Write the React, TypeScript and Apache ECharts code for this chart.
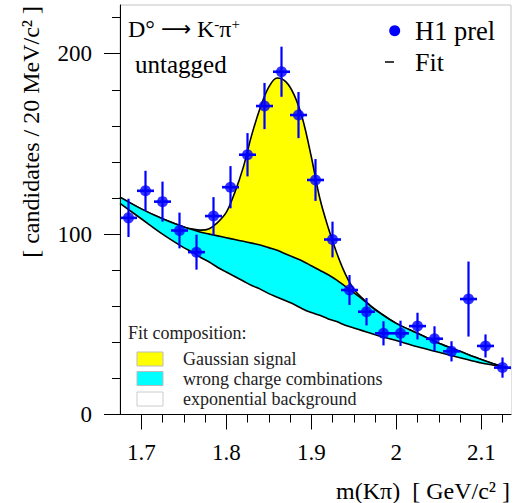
import React, { useEffect, useRef } from "react";
import * as echarts from "echarts";

// Data points (bin centres, 20 MeV bins)
const massBins = [1.685, 1.705, 1.725, 1.745, 1.765, 1.785, 1.805, 1.825, 1.845, 1.865, 1.885, 1.905, 1.925, 1.945, 1.965, 1.985, 2.005, 2.025, 2.045, 2.065, 2.085, 2.105, 2.125];
const counts = [109, 124, 118, 102, 90, 110, 126, 144, 171, 190, 166, 130, 97, 69, 57, 45, 45, 49, 42, 35, 64, 38, 26];
const countErrors = [10.6, 11.1, 11.1, 9.9, 9.7, 10.5, 11.7, 12, 12.8, 13.9, 12.8, 11.6, 9.9, 8.3, 7.6, 6.7, 7, 7.4, 6.9, 5.6, 20.8, 6.4, 5.6];
const halfBinWidth = 0.01;

// Fit curves
const fitMass = [1.675, 1.7, 1.725, 1.75, 1.76, 1.77, 1.78, 1.79, 1.8, 1.81, 1.82, 1.83, 1.84, 1.85, 1.86, 1.87, 1.88, 1.89, 1.9, 1.91, 1.92, 1.93, 1.94, 1.95, 1.96, 1.97, 1.98, 2.0, 2.025, 2.05, 2.075, 2.1, 2.125, 2.135];
const fitTotal = [120.5, 114, 108.5, 104, 102.8, 102.2, 103, 106.5, 112, 123, 137, 155, 170, 181.5, 186.5, 184.5, 177, 163.5, 143, 120, 103.5, 89.5, 78, 69.5, 64.5, 60.2, 56.7, 50.5, 45, 39.5, 35, 30.5, 26.5, 25.5];
const fitBackground = [120.5, 114, 108.5, 104, 102.5, 101, 100, 99, 98, 97, 96, 95, 94, 92.5, 91, 89, 87, 85, 82.5, 80, 77.5, 74.5, 71, 67.5, 64, 60, 56.5, 50.5, 45, 39.5, 35, 30.5, 26.5, 25.5];
const fitExponential = [117, 108.5, 100, 92.5, 90, 87, 84.5, 81.5, 79, 76.5, 74, 71.5, 69.5, 67, 65, 63, 61, 58.5, 56.5, 55, 53, 51.5, 49.5, 48, 46.5, 45, 43.5, 41, 37.5, 34.5, 31.5, 28.5, 26.5, 25.5];

// Axis ticks
const xMajorTicks = [1.7, 1.8, 1.9, 2.0, 2.1];
const xMinorTicks = [1.725, 1.75, 1.775, 1.825, 1.85, 1.875, 1.925, 1.95, 1.975, 2.025, 2.05, 2.075, 2.125];
const yMajorTicks = [0, 100, 200];
const yMinorTicks = [20, 40, 60, 80, 120, 140, 160, 180, 220];

const FONT = "Liberation Serif";

export default function App() {
  const ref = useRef<HTMLDivElement>(null);

  useEffect(() => {
    document.body.style.margin = "0";
    const chart = echarts.init(ref.current as HTMLDivElement, null, { renderer: "svg" });
    const pairs = (ys: number[]) => fitMass.map((m, i) => [m, ys[i]]);
    const xCommon = { type: "value", min: 1.675, max: 2.135, splitLine: { show: false }, z: 10 };
    const yCommon = { type: "value", min: 0, max: 227, splitLine: { show: false }, z: 10 };
    const txt = (text: string, x: number, y: number, size: number, extra: any = {}) => ({
      type: "text",
      x,
      y,
      z: 100,
      style: {
        text,
        fontFamily: FONT,
        fontSize: size,
        fill: "#000",
        align: "left",
        textAlign: "left",
        verticalAlign: "middle",
        textVerticalAlign: "middle",
        ...extra,
      },
    });

    const option: any = {
      animation: false,
      grid: { left: 120, right: 13, top: 5, bottom: 88.5, show: true, borderColor: "#c4c4c4", borderWidth: 1 },
      xAxis: [
        {
          ...xCommon,
          axisLine: { lineStyle: { color: "#000", width: 1 } },
          axisTick: { customValues: xMajorTicks, length: 15, lineStyle: { color: "#000" } },
          axisLabel: { customValues: xMajorTicks, fontFamily: FONT, fontSize: 23, color: "#000", margin: 26 },
        },
        {
          ...xCommon,
          position: "bottom",
          axisLine: { show: false },
          axisTick: { customValues: xMinorTicks, length: 8, lineStyle: { color: "#000" } },
          axisLabel: { show: false },
        },
      ],
      yAxis: [
        {
          ...yCommon,
          position: "left",
          axisLine: { show: true, lineStyle: { color: "#000", width: 1 } },
          axisTick: { show: true, customValues: yMajorTicks, length: 16, lineStyle: { color: "#000" } },
          axisLabel: { customValues: yMajorTicks, fontFamily: FONT, fontSize: 23, color: "#000", margin: 28 },
        },
        {
          ...yCommon,
          position: "left",
          axisLine: { show: false },
          axisTick: { show: true, customValues: yMinorTicks, length: 8, lineStyle: { color: "#000" } },
          axisLabel: { show: false },
        },
      ],
      series: [
        {
          name: "Fit total",
          type: "line",
          data: pairs(fitTotal),
          smooth: 0.35,
          showSymbol: false,
          lineStyle: { color: "#000", width: 1.6 },
          areaStyle: { color: "#ffff00", opacity: 1 },
          z: 2,
        },
        {
          name: "wrong charge combinations",
          type: "line",
          data: pairs(fitBackground),
          smooth: 0.35,
          showSymbol: false,
          lineStyle: { color: "#000", width: 1.6 },
          areaStyle: { color: "#00ffff", opacity: 1 },
          z: 3,
        },
        {
          name: "exponential background",
          type: "line",
          data: pairs(fitExponential),
          smooth: 0.35,
          showSymbol: false,
          lineStyle: { color: "#000", width: 1.6 },
          areaStyle: { color: "#ffffff", opacity: 1 },
          z: 4,
        },
        {
          name: "errors",
          type: "custom",
          z: 5,
          encode: { x: 0, y: 1 },
          data: massBins.map((m, i) => [m, counts[i], countErrors[i]]),
          renderItem: (params: any, api: any) => {
            const x = api.value(0);
            const y = api.value(1);
            const e = api.value(2);
            const top = api.coord([x, y + e]);
            const bot = api.coord([x, y - e]);
            const l = api.coord([x - halfBinWidth, y]);
            const r = api.coord([x + halfBinWidth, y]);
            return {
              type: "group",
              children: [
                { type: "line", shape: { x1: top[0], y1: top[1], x2: bot[0], y2: bot[1] }, style: { stroke: "#0000ff", lineWidth: 2.2 } },
                { type: "line", shape: { x1: l[0], y1: l[1], x2: r[0], y2: r[1] }, style: { stroke: "#0000ff", lineWidth: 2.6 } },
              ],
            };
          },
        },
        {
          name: "H1 prel",
          type: "scatter",
          z: 6,
          symbol: "circle",
          symbolSize: 11,
          itemStyle: { color: "#0000ff" },
          data: massBins.map((m, i) => [m, counts[i]]),
        },
      ],
      graphic: [
        {
          type: "text",
          x: 128,
          y: 29,
          z: 100,
          style: {
            text: "{a|D°}{a| }{b|⟶}{a| K}{s|-}{a|π}{s|+}",
            fill: "#000",
            verticalAlign: "middle",
            textVerticalAlign: "middle",
            rich: {
              a: { fontFamily: FONT, fontSize: 24, fill: "#000", color: "#000", lineHeight: 26 },
              b: { fontFamily: "DejaVu Sans", fontSize: 21, fill: "#000", color: "#000", lineHeight: 26 },
              s: { fontFamily: FONT, fontSize: 15, fill: "#000", color: "#000", verticalAlign: "top", lineHeight: 15 },
            },
          },
        },
        txt("untagged", 135, 64, 25),
        { type: "circle", z: 100, shape: { cx: 394.7, cy: 30.7, r: 5.5 }, style: { fill: "#0000ff" } },
        txt("H1 prel", 415, 31, 26.5),
        { type: "line", z: 100, shape: { x1: 385, y1: 62, x2: 394, y2: 62 }, style: { stroke: "#000", lineWidth: 1.5 } },
        txt("Fit", 415, 62.5, 26),
        txt("Fit composition:", 128, 333, 18, { fill: "#222" }),
        { type: "rect", z: 100, shape: { x: 137, y: 352, width: 26, height: 14 }, style: { fill: "#ffff00", stroke: "#bbbbbb", lineWidth: 1 } },
        { type: "rect", z: 100, shape: { x: 137, y: 371.5, width: 26, height: 14 }, style: { fill: "#00ffff", stroke: "#bbbbbb", lineWidth: 1 } },
        { type: "rect", z: 100, shape: { x: 137, y: 392, width: 26, height: 14 }, style: { fill: "#ffffff", stroke: "#cccccc", lineWidth: 1 } },
        txt("Gaussian signal", 183, 358.5, 18, { fill: "#222" }),
        txt("wrong charge combinations", 183, 378.5, 18, { fill: "#222" }),
        txt("exponential background", 183, 399, 18, { fill: "#222" }),
        txt("m(Kπ)  [ GeV/c² ]", 510, 491, 24, { align: "right", textAlign: "right" }),
        {
          type: "text",
          x: 31,
          y: 6,
          rotation: Math.PI / 2,
          z: 100,
          style: {
            text: "[ candidates / 20 MeV/c² ]",
            fontFamily: FONT,
            fontSize: 24,
            fill: "#000",
            align: "right",
            textAlign: "right",
            verticalAlign: "middle",
            textVerticalAlign: "middle",
          },
        },
      ],
    };
    chart.setOption(option);
    return () => chart.dispose();
  }, []);

  return <div ref={ref} style={{ width: 524, height: 503 }} />;
}
